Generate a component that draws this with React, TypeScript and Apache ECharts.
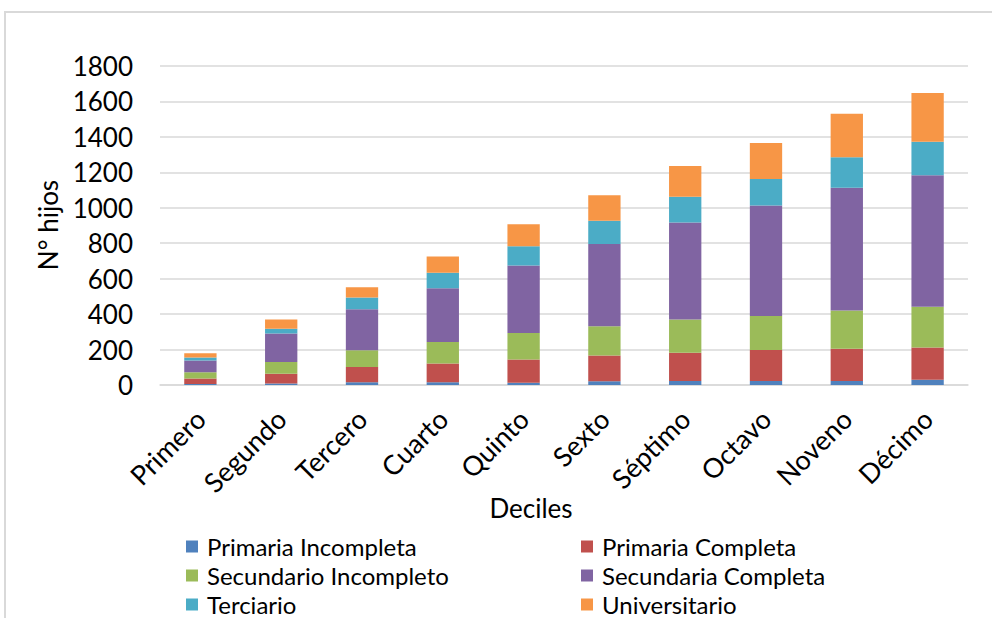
import React, { useEffect, useRef } from "react";
import * as echarts from "echarts";

const categories = ["Primero", "Segundo", "Tercero", "Cuarto", "Quinto", "Sexto", "Séptimo", "Octavo", "Noveno", "Décimo"];
const seriesNames = ["Primaria Incompleta", "Primaria Completa", "Secundario Incompleto", "Secundaria Completa", "Terciario", "Universitario"];
const primariaIncompleta = [6, 8, 15, 15, 13, 21, 23, 23, 23, 30];
const primariaCompleta = [30, 56, 87, 106, 131, 145, 159, 174, 182, 182];
const secundarioIncompleto = [36, 66, 94, 122, 149, 165, 188, 193, 215, 229];
const secundariaCompleta = [66, 161, 232, 303, 382, 465, 547, 623, 693, 743];
const terciario = [17, 26, 66, 88, 108, 131, 145, 150, 172, 189];
const universitario = [24, 53, 57, 91, 124, 144, 174, 203, 246, 274];
const yTicks = [0, 200, 400, 600, 800, 1000, 1200, 1400, 1600, 1800];
const colors = ["#4F81BD", "#C0504D", "#9BBB59", "#8064A2", "#4BACC6", "#F79646"];

const FONT = "Lato";

export default function App() {
  const ref = useRef<HTMLDivElement>(null);
  useEffect(() => {
    const chart = echarts.init(ref.current!, null, { renderer: "svg" });
    const data = [primariaIncompleta, primariaCompleta, secundarioIncompleto, secundariaCompleta, terciario, universitario];
    const legendText = { fontFamily: FONT, fontSize: 24, color: "#000", lineHeight: 29, padding: [0, 0, 0, 4] };
    chart.setOption({
      animation: false,
      color: colors,
      grid: { left: 160, right: 24, top: 66, bottom: 233, containLabel: false },
      graphic: [
        { type: "rect", shape: { x: 5, y: 12, width: 1100, height: 800 }, style: { fill: "none", stroke: "#d9d9d9", lineWidth: 2 }, silent: true },
        { type: "text", x: 48, y: 225, rotation: Math.PI / 2, style: { text: "N° hijos", fontFamily: FONT, fontSize: 26, fill: "#000", align: "center", verticalAlign: "middle" } },
        { type: "text", x: 531, y: 508, style: { text: "Deciles", fontFamily: FONT, fontSize: 26, fill: "#000", align: "center", verticalAlign: "middle" } },
      ],
      legend: [
        { left: 181, top: 527, height: 120, padding: 5, orient: "vertical", itemGap: 0, itemWidth: 12, itemHeight: 12, icon: "rect", data: [seriesNames[0], seriesNames[2], seriesNames[4]], textStyle: legendText },
        { left: 576, top: 527, height: 120, padding: 5, orient: "vertical", itemGap: 0, itemWidth: 12, itemHeight: 12, icon: "rect", data: [seriesNames[1], seriesNames[3], seriesNames[5]], textStyle: legendText },
      ],
      xAxis: {
        type: "category",
        data: categories,
        axisLine: { lineStyle: { color: "#d9d9d9", width: 1.5 } },
        axisTick: { show: false },
        axisLabel: { rotate: 45, interval: 0, margin: 29, fontFamily: FONT, fontSize: 27, color: "#000" },
      },
      yAxis: {
        type: "value",
        min: yTicks[0],
        max: yTicks[yTicks.length - 1],
        interval: 200,
        axisLine: { show: false },
        axisTick: { show: false },
        splitLine: { lineStyle: { color: "#d9d9d9", width: 1.5 } },
        axisLabel: { margin: 27, fontFamily: FONT, fontSize: 26, color: "#000", formatter: (v: number) => String(v) },
      },
      series: seriesNames.map((name, i) => ({
        name,
        type: "bar",
        stack: "total",
        barWidth: "40%",
        data: data[i],
        itemStyle: { color: colors[i] },
      })),
    });
    return () => chart.dispose();
  }, []);
  return <div ref={ref} style={{ position: "fixed", left: 0, top: 0, width: 992, height: 618, background: "#fff" }} />;
}
